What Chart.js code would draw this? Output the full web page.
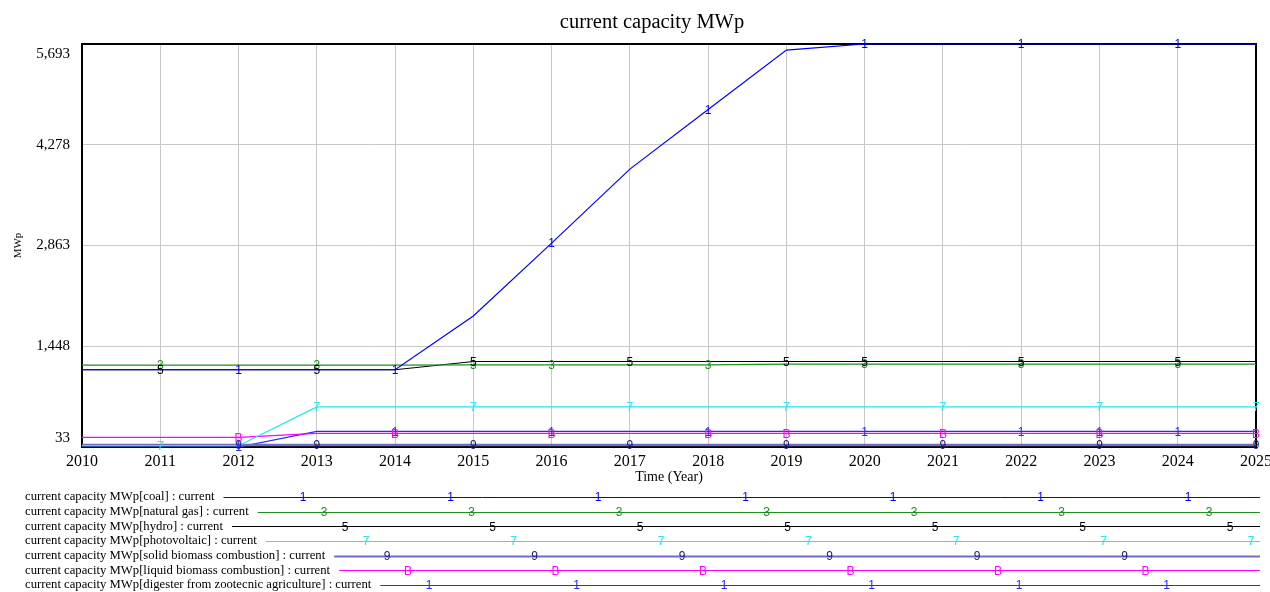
<!DOCTYPE html>
<html lang="en">
<head>
  <meta charset="UTF-8">
  <title>current capacity MWp</title>
  <script src="https://cdn.jsdelivr.net/npm/chart.js"></script>
  <style>
    html, body { margin: 0; padding: 0; background: #fff; }
    #wrap { width: 1270px; height: 592px; }
  </style>
</head>
<body>
<div id="wrap"><canvas id="capChart" width="1270" height="592"></canvas></div>

<script>
// values (MWp)
const years = ['2010','2011','2012','2013','2014','2015','2016','2017','2018','2019','2020','2021','2022','2023','2024','2025'];
const coal          = [1118,1118,1118,1118,1118,1872,2897,3936,4774,5607,5693,5693,5693,5693,5693,5693];
const naturalGas    = [1184,1184,1184,1184,1184,1186,1186,1186,1186,1198,1198,1198,1198,1198,1198,1198];
const hydro         = [1118,1118,1118,1118,1118,1234,1234,1234,1234,1234,1234,1234,1234,1234,1234,1234];
const photovoltaic  = [51,51,51,597,597,597,597,597,597,597,597,597,597,597,597,597];
const solidBiomass  = [60,60,60,60,60,60,60,60,60,60,60,60,60,60,60,60];
const liquidBiomass = [169,169,169,225,225,225,225,225,225,225,225,225,225,225,225,225];
const digester      = [33,33,33,252,252,252,252,252,252,252,252,252,252,252,252,252];

const yTicks = [33, 1448, 2863, 4278, 5693];

const seriesNames = [
  'current capacity MWp[coal] : current',
  'current capacity MWp[natural gas] : current',
  'current capacity MWp[hydro] : current',
  'current capacity MWp[photovoltaic] : current',
  'current capacity MWp[solid biomass combustion] : current',
  'current capacity MWp[liquid biomass combustion] : current',
  'current capacity MWp[digester from zootecnic agriculture] : current'
];
const markerChars = ['1','3','5','7','9','B','1'];
// years where the series number is printed on the line
const markerYears = [
  ['2012','2014','2016','2018','2020','2022','2024'],
  ['2011','2013','2015','2016','2018','2020','2022','2024'],
  ['2011','2013','2015','2017','2019','2020','2022','2024'],
  ['2011','2013','2015','2017','2019','2021','2023','2025'],
  ['2012','2013','2015','2017','2019','2021','2023','2025'],
  ['2012','2014','2016','2018','2019','2021','2023','2025'],
  ['2012','2014','2016','2018','2020','2022','2023','2024']
];

const lineColors = ['#0000ff', '#1f8f1f', '#000000', '#22e8e8', '#6e6ec0', '#ff00ff', '#2828ff'];
const markColors = ['#0000ff', '#1f8f1f', '#000000', '#22e8e8', '#1c1c7c', '#ff00ff', '#2828ff'];
const lineWidths = [1.2, 1.2, 1.2, 1.2, 2.5, 1.2, 1.2];

const allSeries = [coal, naturalGas, hydro, photovoltaic, solidBiomass, liquidBiomass, digester];

const SERIF = '"Liberation Serif", "Times New Roman", serif';
const SANS = '"Liberation Sans", Arial, sans-serif';

const vensimDecor = {
  id: 'vensimDecor',
  beforeDatasetsDraw(chart) {
    const ctx = chart.ctx, a = chart.chartArea;
    ctx.save();
    ctx.strokeStyle = '#000';
    ctx.lineWidth = 2;
    ctx.strokeRect(a.left, a.top, a.right - a.left, a.bottom - a.top);
    ctx.restore();
  },
  afterDatasetsDraw(chart) {
    const ctx = chart.ctx;
    const xs = chart.scales.x, ys = chart.scales.y;
    ctx.save();
    ctx.font = '12px ' + SANS;
    ctx.textAlign = 'center';
    ctx.textBaseline = 'middle';
    allSeries.forEach((vals, i) => {
      ctx.fillStyle = markColors[i];
      markerYears[i].forEach(yr => {
        const idx = years.indexOf(yr);
        ctx.fillText(markerChars[i], xs.getPixelForValue(idx), ys.getPixelForValue(vals[idx]) + 1);
      });
    });
    ctx.restore();
  },
  afterDraw(chart) {
    const ctx = chart.ctx, a = chart.chartArea, ys = chart.scales.y;
    ctx.save();
    // title
    ctx.fillStyle = '#000';
    ctx.font = '20.5px ' + SERIF;
    ctx.textAlign = 'center';
    ctx.textBaseline = 'middle';
    ctx.fillText('current capacity MWp', 652, 23);
    // y tick labels, kept inside the frame like Vensim does
    ctx.font = '15px ' + SERIF;
    ctx.textAlign = 'right';
    yTicks.forEach(v => {
      let y = ys.getPixelForValue(v);
      y = Math.max(a.top + 10, Math.min(a.bottom - 9, y));
      ctx.fillText(v.toLocaleString('en-US'), a.left - 12, y);
    });
    // legend
    const rowTop = 497, rowGap = 14.67;
    seriesNames.forEach((name, i) => {
      const y = rowTop + i * rowGap;
      ctx.font = '12.7px ' + SERIF;
      ctx.textAlign = 'left';
      ctx.fillStyle = '#000';
      ctx.fillText(name, 25, y);
      const x0 = 25 + ctx.measureText(name).width + 9;
      ctx.strokeStyle = lineColors[i];
      ctx.lineWidth = lineWidths[i] > 2 ? 2 : 1;
      ctx.beginPath();
      ctx.moveTo(x0, Math.round(y) + 0.5);
      ctx.lineTo(1260, Math.round(y) + 0.5);
      ctx.stroke();
      ctx.font = '12px ' + SANS;
      ctx.textAlign = 'center';
      ctx.fillStyle = markColors[i];
      for (let x = 303 + 21 * i; x < 1258; x += 147.5) {
        if (x > x0) ctx.fillText(markerChars[i], x, y + 1);
      }
    });
    ctx.restore();
  }
};

new Chart(document.getElementById('capChart'), {
  type: 'line',
  data: {
    labels: years,
    datasets: allSeries.map((vals, i) => ({
      label: seriesNames[i],
      data: vals,
      borderColor: lineColors[i],
      borderWidth: lineWidths[i],
      pointRadius: 0,
      tension: 0,
      fill: false
    }))
  },
  options: {
    responsive: false,
    animation: false,
    layout: { padding: { left: 0, right: 14, top: 44, bottom: 105 } },
    plugins: {
      legend: { display: false },
      title: { display: false },
      tooltip: { enabled: false }
    },
    scales: {
      x: {
        offset: false,
        grid: { color: '#c8c8c8', drawTicks: false },
        border: { display: false },
        ticks: { color: '#000', font: { family: SERIF, size: 16 }, padding: 5, maxRotation: 0, autoSkip: false },
        title: { display: true, text: 'Time (Year)', color: '#000', font: { family: SERIF, size: 14 }, padding: { top: 0, bottom: 1 } },
        afterFit(scale) {
          scale.height = 40;
          scale.paddingLeft = 0;
          scale.paddingRight = 0;
        }
      },
      y: {
        min: 33,
        max: 5693,
        afterBuildTicks(scale) { scale.ticks = yTicks.map(v => ({ value: v })); },
        grid: { color: '#c8c8c8', drawTicks: false },
        border: { display: false },
        ticks: { display: false },
        title: { display: true, text: 'MWp', color: '#000', font: { family: SERIF, size: 11 }, padding: { top: 12, bottom: 0 } },
        afterFit(scale) {
          scale.width = 82;
          scale.paddingTop = 0;
          scale.paddingBottom = 0;
        }
      }
    }
  },
  plugins: [vensimDecor]
});
</script>
</body>
</html>
